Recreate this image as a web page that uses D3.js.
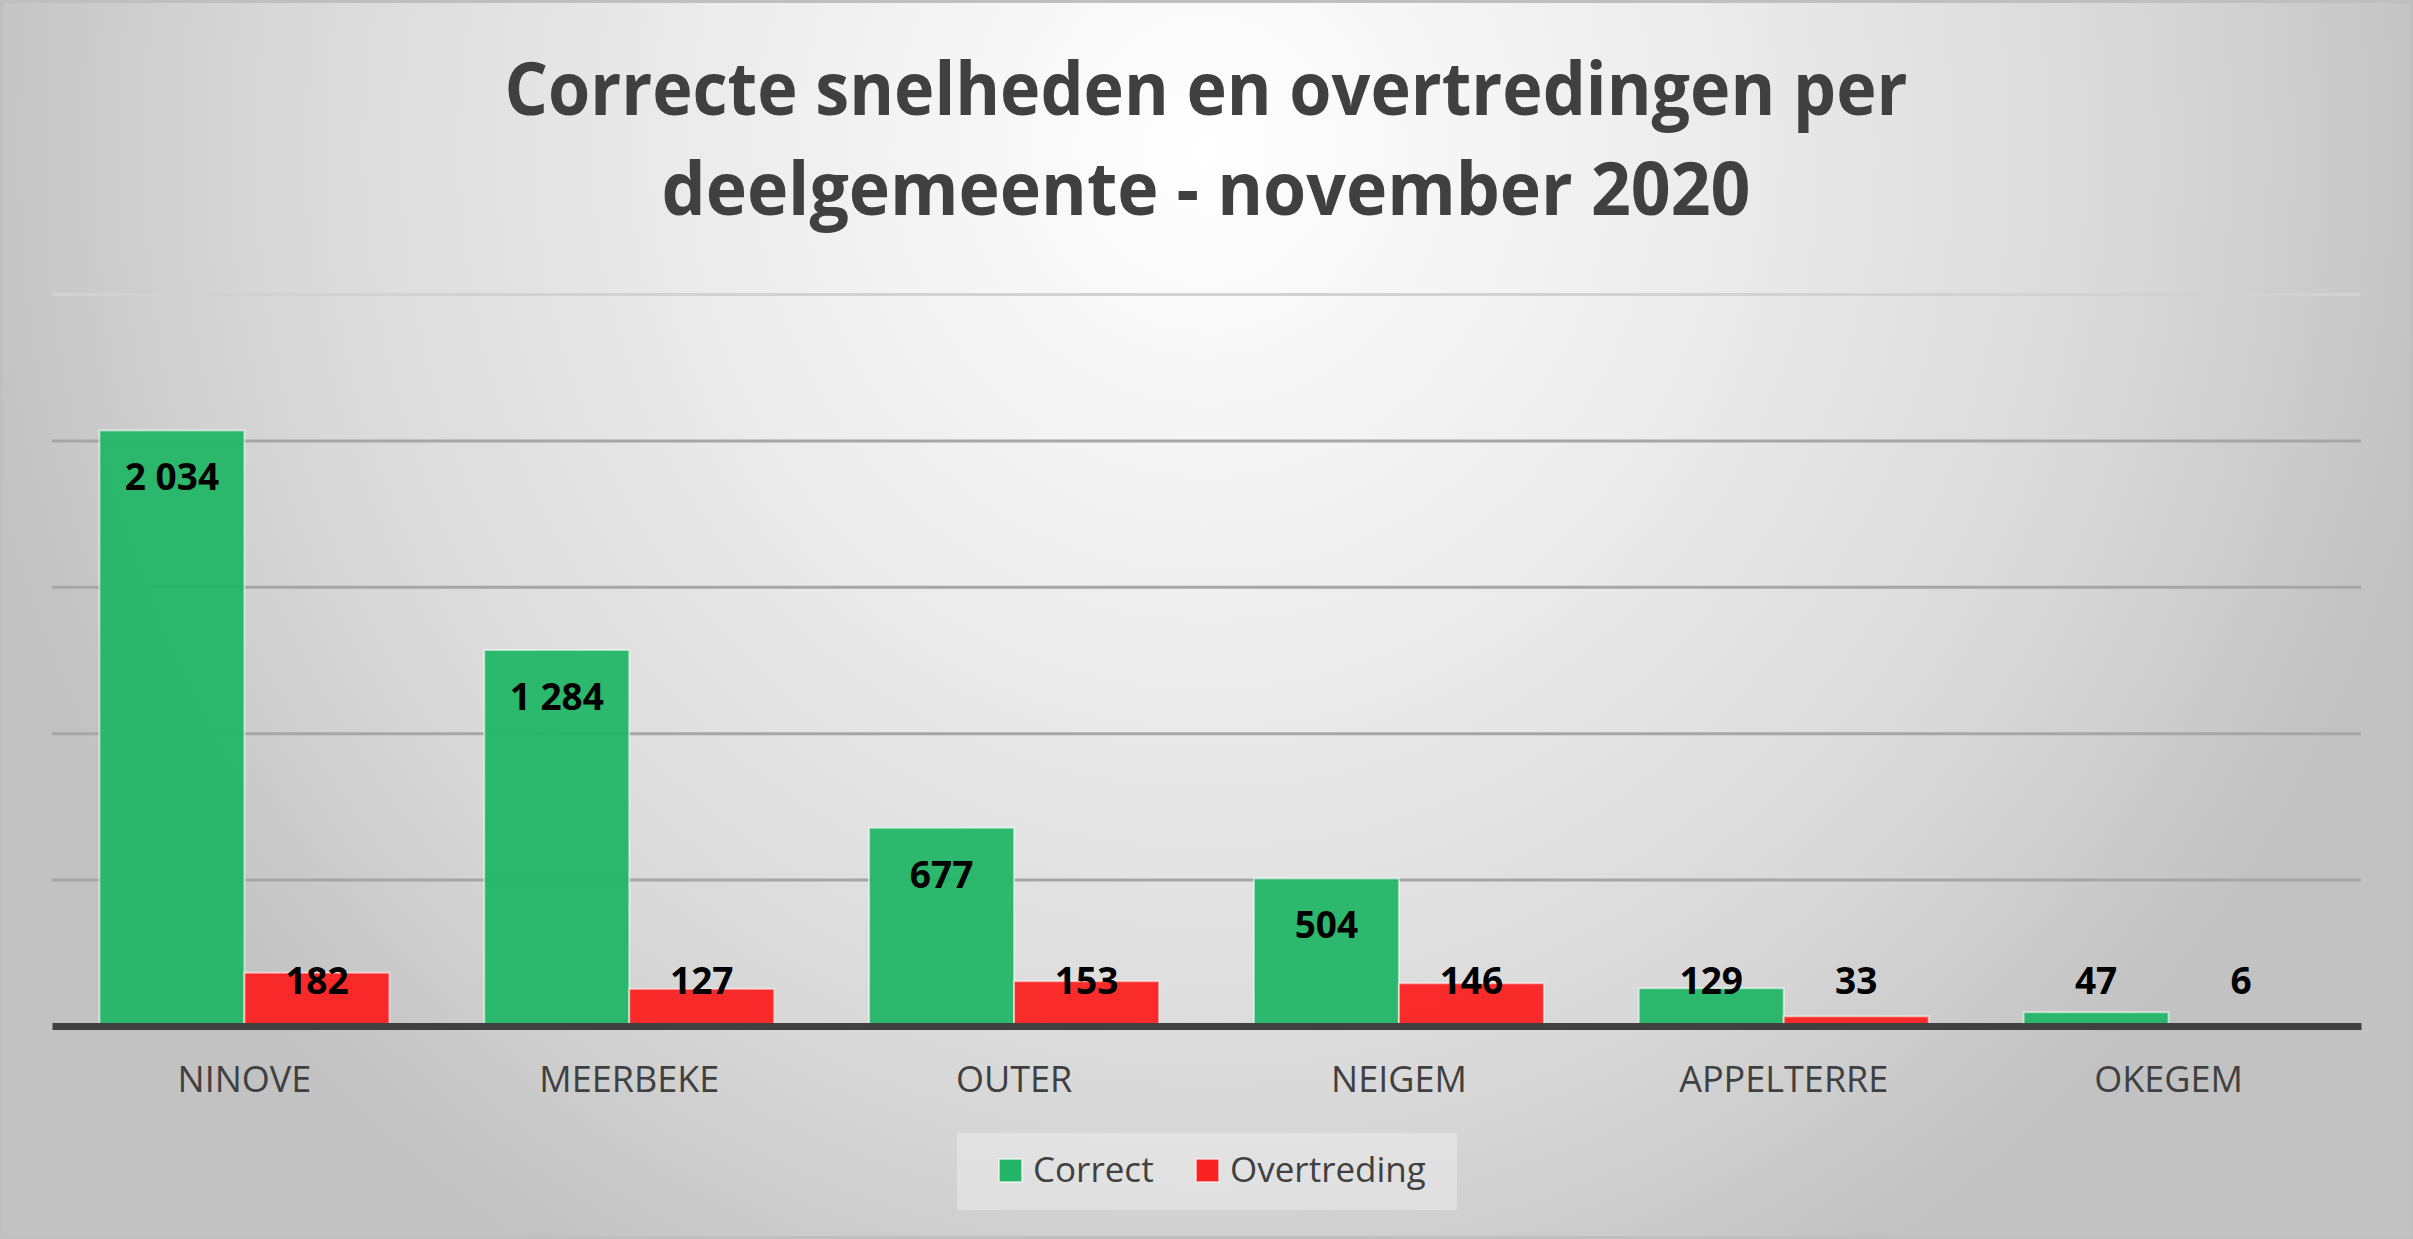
<!DOCTYPE html>
<meta charset="utf-8">
<style>
  body { margin: 0; }
  svg { display: block; font-family: "Open Sans", sans-serif; }
</style>
<svg id="chart" width="2413" height="1239"></svg>
<script src="https://d3js.org/d3.v7.min.js"></script>
<script>

var categories = ["NINOVE", "MEERBEKE", "OUTER", "NEIGEM", "APPELTERRE", "OKEGEM"];
var seriesNames = ["Correct", "Overtreding"];
var correct = [2034, 1284, 677, 504, 129, 47];
var overtreding = [182, 127, 153, 146, 33, 6];
var titleLines = ["Correcte snelheden en overtredingen per", "deelgemeente - november 2020"];

var colors = { "Correct": "#22b566", "Overtreding": "#fa2121" };

var svg = d3.select("svg#chart"),
	width = +svg.attr("width"),
	height = +svg.attr("height");

var margin = { left: 52, right: 52, top: 294, axisY: 1026 };

var fmt = d3.formatLocale({ decimal: ",", thousands: " ", grouping: [3], currency: ["", ""] }).format(",d");

// background
var defs = svg.append("defs");
var grad = defs.append("radialGradient")
	.attr("id", "bg")
	.attr("gradientUnits", "userSpaceOnUse")
	.attr("cx", 0).attr("cy", 0).attr("r", 1)
	.attr("gradientTransform", "translate(1206,150) scale(1250,1300)");
grad.append("stop").attr("offset", 0).attr("stop-color", "#ffffff");
grad.append("stop").attr("offset", 0.4).attr("stop-color", "#ececec");
grad.append("stop").attr("offset", 0.75).attr("stop-color", "#d8d8d8");
grad.append("stop").attr("offset", 1).attr("stop-color", "#c2c2c2");

svg.append("rect")
	.attr("width", width).attr("height", height)
	.attr("fill", "url(#bg)");
svg.append("rect")
	.attr("x", 1.5).attr("y", 1.5)
	.attr("width", width - 3).attr("height", height - 3)
	.attr("fill", "none")
	.attr("stroke", "#bfbfbf")
	.attr("stroke-width", 3);

// title
var titleWidths = [1403, 1089];
svg.append("g").selectAll("text")
	.data(titleLines)
	.enter().append("text")
		.attr("x", 1206)
		.attr("y", function(d, i) { return 115 + i * 100; })
		.attr("text-anchor", "middle")
		.attr("textLength", function(d, i) { return titleWidths[i]; })
		.attr("lengthAdjust", "spacingAndGlyphs")
		.style("font-size", "74px")
		.style("font-weight", "bold")
		.style("fill", "#404040")
		.text(function(d) { return d; });

// scales
var x0 = d3.scaleBand()
	.domain(categories)
	.range([margin.left, width - margin.right]);

var x1 = d3.scaleBand()
	.domain(seriesNames)
	.range([0, x0.bandwidth()])
	.paddingOuter(0.327);

var y = d3.scaleLinear()
	.domain([0, 2500])
	.range([margin.axisY, margin.top]);

// gridlines
var grid = svg.append("g")
	.attr("transform", "translate(" + margin.left + ",0)")
	.call(d3.axisLeft(y).ticks(5).tickSize(-(width - margin.left - margin.right)).tickFormat(""));
grid.select(".domain").remove();
grid.selectAll(".tick line")
	.attr("stroke", function(d) { return d === 2500 ? "#d2d2d2" : "#a6a6a6"; })
	.attr("stroke-width", 3)
	.attr("display", function(d) { return d === 0 ? "none" : null; });

// bars
var rows = categories.map(function(c, i) {
	return { cat: c, values: [
		{ key: "Correct", value: correct[i] },
		{ key: "Overtreding", value: overtreding[i] }
	] };
});

var groups = svg.append("g").selectAll("g")
	.data(rows)
	.enter().append("g")
		.attr("transform", function(d) { return "translate(" + x0(d.cat) + ",0)"; });

groups.selectAll("rect")
	.data(function(d) { return d.values; })
	.enter().append("rect")
		.attr("x", function(d) { return x1(d.key); })
		.attr("y", function(d) { return y(d.value); })
		.attr("width", x1.bandwidth())
		.attr("height", function(d) { return y(0) - y(d.value); })
		.attr("fill", function(d) { return colors[d.key]; })
		.attr("fill-opacity", 0.95)
		.attr("stroke", "rgba(255,255,255,0.55)")
		.attr("stroke-width", 2);

groups.selectAll("text")
	.data(function(d) { return d.values; })
	.enter().append("text")
		.attr("x", function(d) { return x1(d.key) + x1.bandwidth() / 2; })
		.attr("y", function(d) { return Math.min(y(d.value) + 60, 994); })
		.attr("text-anchor", "middle")
		.style("font-size", "37px")
		.style("font-weight", "bold")
		.style("fill", "#000")
		.text(function(d) { return fmt(d.value); });

// x axis
var xAxis = svg.append("g")
	.attr("transform", "translate(0," + margin.axisY + ")")
	.call(d3.axisBottom(x0).tickSize(0).tickPadding(0));
xAxis.select(".domain")
	.attr("stroke", "#404040")
	.attr("stroke-width", 7);
xAxis.selectAll(".tick text")
	.attr("y", 66)
	.attr("dy", null)
	.style("font-family", "'Open Sans', sans-serif")
	.style("font-size", "36px")
	.style("fill", "#404040");

// legend
var legend = svg.append("g");
legend.append("rect")
	.attr("x", 957).attr("y", 1133)
	.attr("width", 500).attr("height", 77)
	.attr("fill", "rgba(245,245,245,0.4)");

var legendX = [999, 1196];
var item = legend.selectAll("g")
	.data(seriesNames)
	.enter().append("g")
		.attr("transform", function(d, i) { return "translate(" + legendX[i] + ",1159)"; });
item.append("rect")
	.attr("width", 23).attr("height", 23)
	.attr("fill", function(d) { return colors[d]; })
	.attr("stroke", "rgba(255,255,255,0.55)")
	.attr("stroke-width", 2);
item.append("text")
	.attr("x", 34)
	.attr("y", 23)
	.style("font-size", "35px")
	.style("fill", "#404040")
	.text(function(d) { return d; });

</script>
